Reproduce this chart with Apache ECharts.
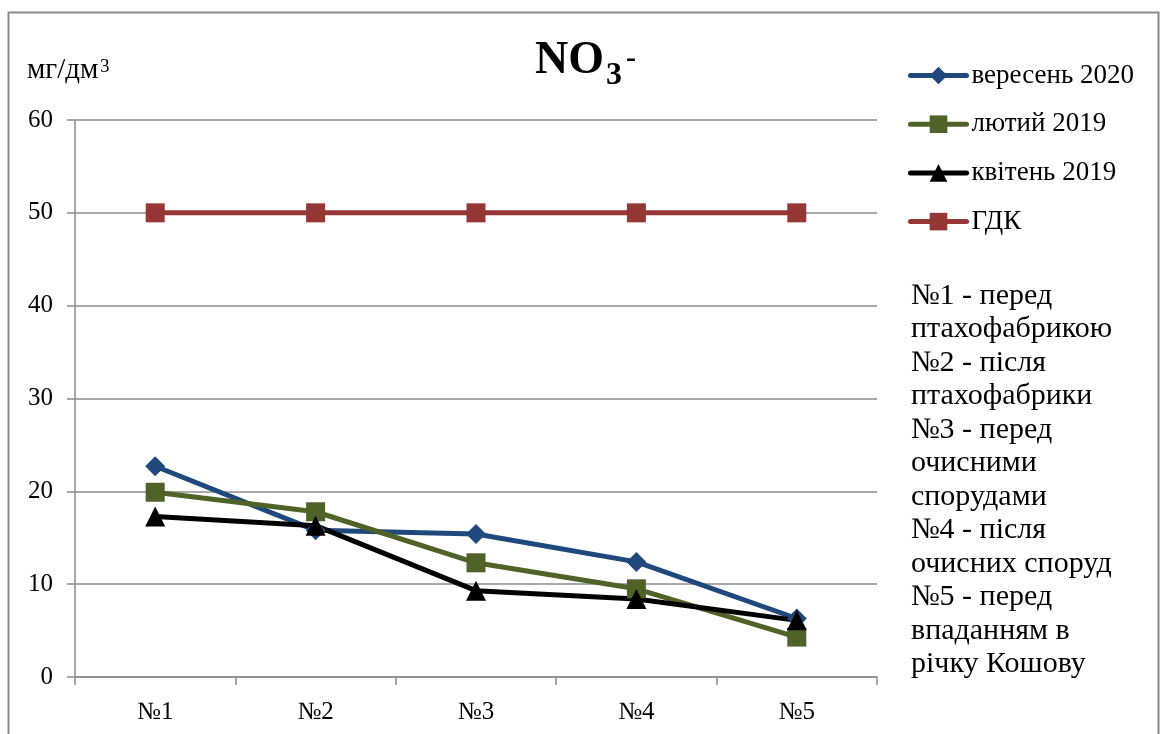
<!DOCTYPE html>
<html>
<head>
<meta charset="utf-8">
<script src="https://cdn.jsdelivr.net/npm/echarts@6/dist/echarts.min.js"></script>
<style>
  html, body { margin: 0; padding: 0; background: #fff; }
  #chart { width: 1165px; height: 734px; }
</style>
</head>
<body>
<div id="chart"></div>
<script>
// Sampling points along the stream
const categories = ['№1', '№2', '№3', '№4', '№5'];
// Nitrate concentration, mg/dm³
const sep2020 = [22.7, 15.8, 15.4, 12.4, 6.3];
const feb2019 = [19.9, 17.8, 12.3, 9.5, 4.3];
const apr2019 = [17.3, 16.3, 9.3, 8.4, 6.1];
const gdk = [50, 50, 50, 50, 50];
const seriesNames = ['вересень 2020', 'лютий 2019', 'квітень 2019', 'ГДК'];
const yTicks = { min: 0, max: 60, interval: 10 };
// Explanation of the sampling points
const notes = [
  '№1 - перед', 'птахофабрикою', '№2 - після', 'птахофабрики',
  '№3 - перед', 'очисними', 'спорудами', '№4 - після',
  'очисних споруд', '№5 - перед', 'впаданням в', 'річку Кошову'
];

const FONT = '"Liberation Serif", "Times New Roman", serif';
const chart = echarts.init(document.getElementById('chart'));

function lineSeries(name, data, color, symbol, size) {
  return {
    name, type: 'line', data,
    symbol, symbolSize: size,
    lineStyle: { color, width: 5 },
    itemStyle: { color },
    emphasis: { disabled: true },
    animation: false
  };
}

// text placed by its vertical middle
function label(x, y, text, size, bold) {
  return {
    type: 'text', x, y, silent: true,
    style: {
      text, fontFamily: FONT, fontSize: size,
      fontWeight: bold ? 'bold' : 'normal',
      fill: '#000', align: 'left', verticalAlign: 'middle'
    }
  };
}

chart.setOption({
  backgroundColor: '#fff',
  textStyle: { fontFamily: FONT, color: '#000' },
  legend: {
    orient: 'vertical',
    left: 903, top: 57,
    padding: 5,
    itemWidth: 56, itemHeight: 22, itemGap: 21.7,
    data: seriesNames,
    lineStyle: { width: 5, cap: 'round' },
    textStyle: { fontFamily: FONT, fontSize: 27, color: '#000' },
    selectedMode: false
  },
  grid: { left: 75, right: 288, top: 120, bottom: 57, containLabel: false },
  xAxis: {
    type: 'category',
    data: categories,
    boundaryGap: true,
    axisLine: { lineStyle: { color: '#8c8c8c', width: 1.5 } },
    axisTick: { show: true, length: 8, alignWithLabel: false, lineStyle: { color: '#8c8c8c', width: 1.5 } },
    axisLabel: { fontFamily: FONT, fontSize: 25, color: '#000', margin: 23 }
  },
  yAxis: {
    type: 'value',
    min: yTicks.min, max: yTicks.max, interval: yTicks.interval,
    axisLine: { show: true, lineStyle: { color: '#8c8c8c', width: 1.5 } },
    axisTick: { show: true, length: 8, lineStyle: { color: '#8c8c8c', width: 1.5 } },
    axisLabel: { fontFamily: FONT, fontSize: 25, color: '#000', margin: 22 },
    splitLine: { lineStyle: { color: '#8c8c8c', width: 1.5 } }
  },
  graphic: [
    {
      type: 'rect', silent: true, z: -1,
      shape: { x: 8.5, y: 12.5, width: 1150, height: 760 },
      style: { fill: 'none', stroke: '#8a8a8a', lineWidth: 2 }
    },
    // chart title: NO3 with ion charge
    label(535, 61, 'NO', 46, true),
    label(606, 75.5, '3', 32, true),
    label(626, 59, '-', 30, true),
    // unit of the value axis
    label(27, 70, 'мг/дм', 29, false),
    label(100, 67.5, '3', 19, false),
    {
      type: 'text', left: 911, top: 279, silent: true,
      style: {
        text: notes.join('\n'),
        fontFamily: FONT, fontSize: 30, lineHeight: 33.5, fill: '#000'
      }
    }
  ],
  series: [
    lineSeries(seriesNames[0], sep2020, '#1F497D', 'diamond', 20),
    lineSeries(seriesNames[1], feb2019, '#4F6228', 'rect', 19),
    lineSeries(seriesNames[2], apr2019, '#000000', 'triangle', 20),
    lineSeries(seriesNames[3], gdk, '#953735', 'rect', 19)
  ]
});
</script>
</body>
</html>
